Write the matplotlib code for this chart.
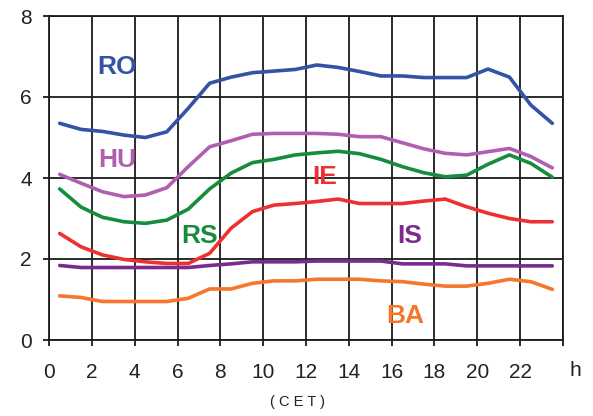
import numpy as np
import matplotlib
matplotlib.use("Agg")
import matplotlib.pyplot as plt

plt.rcParams['font.family'] = ['Liberation Sans', 'DejaVu Sans']

hours = np.arange(0.5, 24, 1.0)

ro = [5.35, 5.2, 5.15, 5.06, 5.0, 5.14, 5.72, 6.34, 6.49, 6.6, 6.64, 6.68,
      6.79, 6.73, 6.63, 6.52, 6.52, 6.48, 6.48, 6.48, 6.69, 6.49, 5.8, 5.35]
hu = [4.09, 3.87, 3.66, 3.54, 3.58, 3.76, 4.28, 4.77, 4.92, 5.08, 5.1, 5.1,
      5.1, 5.08, 5.02, 5.02, 4.87, 4.72, 4.61, 4.57, 4.65, 4.73, 4.53, 4.25]
rs = [3.73, 3.28, 3.03, 2.92, 2.88, 2.96, 3.23, 3.73, 4.12, 4.38, 4.46, 4.57,
      4.62, 4.66, 4.6, 4.46, 4.28, 4.13, 4.03, 4.07, 4.34, 4.57, 4.36, 4.02]
ie = [2.63, 2.3, 2.1, 1.99, 1.93, 1.89, 1.89, 2.14, 2.76, 3.17, 3.33, 3.37,
      3.42, 3.48, 3.37, 3.37, 3.37, 3.43, 3.48, 3.29, 3.13, 3.0, 2.92, 2.92]
is_ = [1.84, 1.79, 1.79, 1.79, 1.79, 1.79, 1.79, 1.84, 1.88, 1.93, 1.93, 1.93,
       1.95, 1.95, 1.95, 1.95, 1.88, 1.88, 1.88, 1.83, 1.83, 1.83, 1.83, 1.83]
ba = [1.09, 1.05, 0.95, 0.95, 0.95, 0.95, 1.03, 1.26, 1.26, 1.4, 1.46, 1.46,
      1.5, 1.5, 1.5, 1.46, 1.44, 1.38, 1.33, 1.33, 1.4, 1.5, 1.44, 1.25]

series = [
    ('RO', ro, '#3353a5', 117, 67),
    ('HU', hu, '#b05fb0', 117, 160),
    ('RS', rs, '#178c3c', 200, 236),
    ('IE', ie, '#f03030', 325, 177),
    ('IS', is_, '#7b2a8e', 410, 236),
    ('BA', ba, '#f7772a', 405, 316),
]

W, H = 593, 416
fig = plt.figure(figsize=(W / 100, H / 100), dpi=100)
ax = fig.add_axes([49 / W, 1 - 340 / H, (563 - 49) / W, (340 - 16) / H])

for name, vals, col, px, py in series:
    ax.plot(hours, vals, color=col, lw=2.6, solid_capstyle='round', zorder=3)
    fig.text(px / W, 1 - py / H, name, color=col, fontsize=19, fontweight='bold',
             ha='center', va='center')

ax.set_xlim(0, 24)
ax.set_ylim(0, 8)
ax.set_xticks(np.arange(0, 25, 2))
ax.set_xticklabels([str(h) for h in range(0, 23, 2)] + [''])
ax.set_yticks(np.arange(0, 9, 2))
ax.grid(True, color='#1a1a1a', lw=1.3)
ax.set_axisbelow(True)
for s in ax.spines.values():
    s.set_color('#1a1a1a')
    s.set_linewidth(1.3)
ax.tick_params(axis='both', labelsize=15, length=4.5, width=1.3, color='#1a1a1a',
               labelcolor='#222222')
ax.tick_params(axis='x', pad=12)
ax.tick_params(axis='y', pad=8)

fig.text(575 / W, 1 - 371 / H, 'h', fontsize=15, color='#222222', ha='center', va='center')
fig.text(297 / W, 1 - 402 / H, '( C E T )', fontsize=10.5, color='#222222', ha='center', va='center')

fig.savefig('out.png', dpi=100)
